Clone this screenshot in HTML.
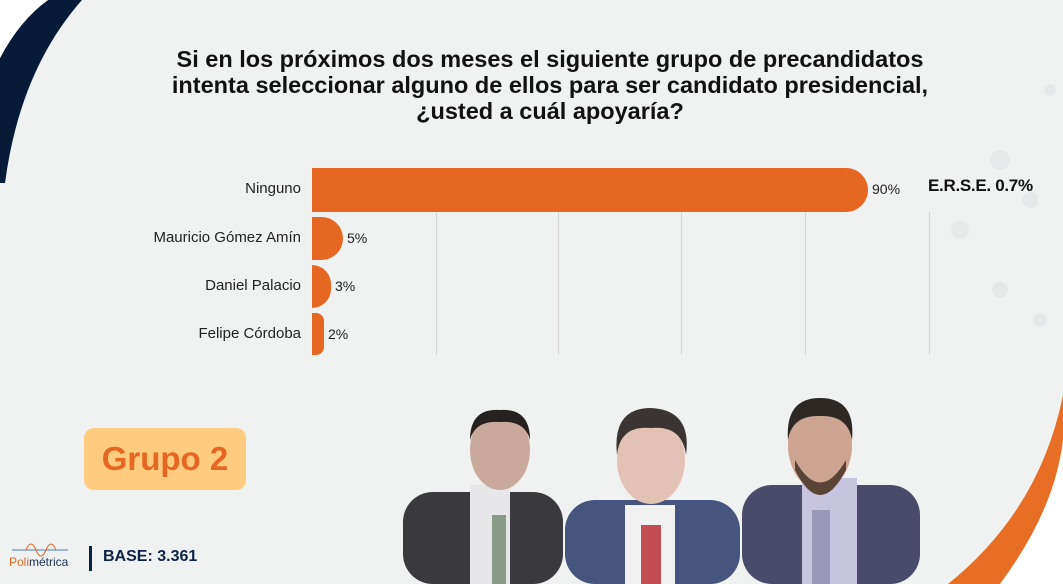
<!DOCTYPE html>
<html><head><meta charset="utf-8"><style>
body{margin:0;width:1063px;height:584px;overflow:hidden;background:#f0f1f1;font-family:"Liberation Sans",sans-serif;position:relative}
.t{position:absolute;left:0;width:1100px;text-align:center;top:46px;font-weight:bold;font-size:23.5px;line-height:26px;color:#111}
.lab{position:absolute;right:762px;font-size:15px;color:#222;text-align:right;white-space:nowrap}
.val{position:absolute;font-size:14px;color:#222}
.bar{position:absolute;left:312px;background:#e66722;border-radius:0 22px 22px 0}
.g{position:absolute;top:212px;height:143px;width:1px;background:#d4d4d4}
</style></head><body>
<svg width="1063" height="584" style="position:absolute;left:0;top:0">
<path d="M48 0 L82 0 Q20 70 5 183 L0 183 L0 58 Q20 20 48 0Z" fill="#061b37"/>
<path d="M0 0 L48 0 Q20 20 0 58Z" fill="#fff"/>
<path d="M1063 395 Q1040 510 948 584 L1000 584 Q1055 510 1063 440Z" fill="#e86e26"/>
<path d="M1063 440 Q1055 510 1000 584 L1063 584Z" fill="#fff"/>
<g fill="#e6e8e9">
<circle cx="1000" cy="160" r="10"/><circle cx="1030" cy="200" r="8"/><circle cx="960" cy="230" r="9"/><circle cx="1000" cy="290" r="8"/><circle cx="1040" cy="320" r="7"/><circle cx="1050" cy="90" r="6"/>
</g>
<g>
<rect x="403" y="492" width="160" height="92" rx="30" fill="#3a3a3e"/>
<rect x="470" y="485" width="40" height="99" fill="#e7e7e9"/><rect x="492" y="515" width="14" height="69" fill="#8a9a88"/>
<ellipse cx="500" cy="450" rx="30" ry="40" fill="#c9a99b"/><path d="M470 440 Q470 408 500 410 Q530 408 530 440 Q525 420 500 422 Q475 420 470 440Z" fill="#26211f"/>
<rect x="565" y="500" width="175" height="84" rx="30" fill="#45557e"/>
<rect x="625" y="505" width="50" height="79" fill="#f1f1f1"/><rect x="641" y="525" width="20" height="59" fill="#c44c55"/>
<ellipse cx="651" cy="460" rx="34" ry="44" fill="#e2c2b4"/><path d="M617 455 Q612 408 651 408 Q692 410 686 455 Q682 425 651 428 Q620 425 617 455Z" fill="#3a3532"/>
<rect x="742" y="485" width="178" height="99" rx="30" fill="#4a4a6a"/>
<rect x="802" y="478" width="55" height="106" fill="#c7c4df"/><rect x="812" y="510" width="18" height="74" fill="#9a98b8"/>
<ellipse cx="820" cy="445" rx="32" ry="45" fill="#cea492"/><path d="M788 440 Q785 398 820 398 Q856 398 852 440 Q848 415 820 416 Q792 415 788 440Z" fill="#2e2825"/>
<path d="M795 460 Q820 505 846 460 L846 470 Q820 520 795 470Z" fill="#5a4438"/>
</g>
</svg>
<div class="t">Si en los próximos dos meses el siguiente grupo de precandidatos<br>intenta seleccionar alguno de ellos para ser candidato presidencial,<br>¿usted a cuál apoyaría?</div>
<div class="g" style="left:436px"></div><div class="g" style="left:558px"></div><div class="g" style="left:681px"></div><div class="g" style="left:805px"></div><div class="g" style="left:929px"></div>
<div class="bar" style="top:168px;height:44px;width:556px"></div>
<div class="bar" style="top:217px;height:43px;width:31px"></div>
<div class="bar" style="top:265px;height:43px;width:19px"></div>
<div class="bar" style="top:313px;height:42px;width:12px;border-radius:0 8px 8px 0"></div>
<div class="lab" style="top:180px">Ninguno</div>
<div class="lab" style="top:229px">Mauricio Gómez Amín</div>
<div class="lab" style="top:277px">Daniel Palacio</div>
<div class="lab" style="top:325px">Felipe Córdoba</div>
<div class="val" style="left:872px;top:181px">90%</div>
<div class="val" style="left:347px;top:230px">5%</div>
<div class="val" style="left:335px;top:278px">3%</div>
<div class="val" style="left:328px;top:326px">2%</div>
<div style="position:absolute;left:928px;top:176px;font-weight:bold;font-size:17px;color:#111;letter-spacing:-0.3px">E.R.S.E. 0.7%</div>
<div style="position:absolute;left:84px;top:428px;width:162px;height:62px;background:#fecb7f;border-radius:10px;text-align:center;line-height:62px;font-weight:bold;font-size:33px;color:#e66722">Grupo 2</div>
<svg width="70" height="40" style="position:absolute;left:8px;top:538px">
<path d="M4 12 H60" stroke="#4a7db3" stroke-width="1"/><path d="M18 12 q5 -12 10 0 q5 12 10 0 q5 -12 10 0" stroke="#e66722" fill="none"/>
<text x="1" y="28" font-size="12" fill="#e66722" font-family="Liberation Sans">Poli<tspan fill="#1b2f52">métrica</tspan></text>
</svg>
<div style="position:absolute;left:89px;top:546px;width:3px;height:25px;background:#0d2345"></div>
<div style="position:absolute;left:103px;top:548px;font-weight:bold;font-size:16px;color:#0d2345">BASE: 3.361</div>
</body></html>
